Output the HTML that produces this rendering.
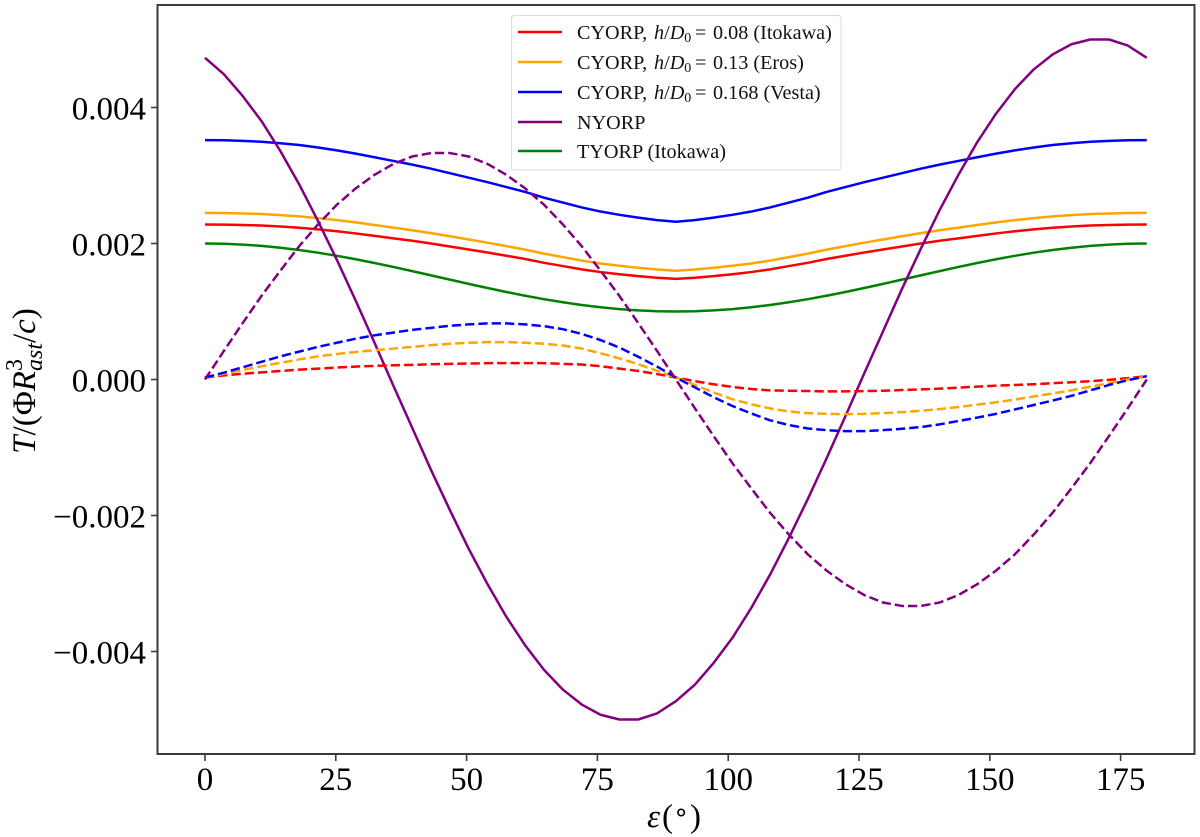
<!DOCTYPE html>
<html lang="en">
<head>
<meta charset="utf-8">
<title>YORP torque vs obliquity</title>
<style>
html,body{margin:0;padding:0;background:#fff;}
svg{display:block;font-family:"Liberation Serif",serif;filter:blur(0.35px);}
</style>
</head>
<body>
<svg id="chart" xmlns="http://www.w3.org/2000/svg" width="1200" height="837" viewBox="0 0 1200 837">
  <rect x="0" y="0" width="1200" height="837" fill="#ffffff"/>
  <g id="ticks"></g>
  <g id="series"></g>
  <rect x="157.5" y="5" width="1037" height="749" fill="none" stroke="#3a3a3a" stroke-width="2"/>
  <text x="647" y="827" font-size="33" fill="#000"><tspan font-style="italic">ε</tspan><tspan x="662">(</tspan><tspan x="673" font-size="26" dy="-6">∘</tspan><tspan x="690" dy="6">)</tspan></text>
  <text transform="translate(35,381) rotate(-90)" font-size="33" text-anchor="middle" fill="#000"><tspan font-style="italic">T</tspan>/(Φ<tspan font-style="italic">R</tspan><tspan font-size="24" dy="-13">3</tspan><tspan font-size="24" dy="20" dx="-12" font-style="italic">ast</tspan><tspan dy="-7">/</tspan><tspan font-style="italic">c</tspan>)</text>
  <g>
    <rect x="511.5" y="15.5" width="329.5" height="154.5" rx="3" fill="#ffffff" fill-opacity="0.9" stroke="#dcdcdc" stroke-width="1"/>
    <g font-size="20.2" fill="#111">
      <line x1="518" x2="562" y1="32" y2="32" stroke="#ff0000" stroke-width="2.4"/>
      <text x="577" y="39">CYORP, <tspan x="654" font-style="italic">h</tspan>/<tspan font-style="italic">D</tspan><tspan font-size="14" dy="3">0</tspan><tspan x="695" dy="-3">=</tspan><tspan x="713">0.08 (Itokawa)</tspan></text>
      <line x1="518" x2="562" y1="62" y2="62" stroke="#ffa500" stroke-width="2.4"/>
      <text x="577" y="69">CYORP, <tspan x="654" font-style="italic">h</tspan>/<tspan font-style="italic">D</tspan><tspan font-size="14" dy="3">0</tspan><tspan x="695" dy="-3">=</tspan><tspan x="713">0.13 (Eros)</tspan></text>
      <line x1="518" x2="562" y1="92" y2="92" stroke="#0000ff" stroke-width="2.4"/>
      <text x="577" y="99">CYORP, <tspan x="654" font-style="italic">h</tspan>/<tspan font-style="italic">D</tspan><tspan font-size="14" dy="3">0</tspan><tspan x="695" dy="-3">=</tspan><tspan x="713">0.168 (Vesta)</tspan></text>
      <line x1="518" x2="562" y1="122" y2="122" stroke="#800080" stroke-width="2.4"/>
      <text x="577" y="129">NYORP</text>
      <line x1="518" x2="562" y1="151" y2="151" stroke="#008000" stroke-width="2.4"/>
      <text x="577" y="158">TYORP (Itokawa)</text>
    </g>
  </g>
</svg>
<script>
// Obliquity samples in degrees
const epsilon = [0,3.6,7.2,10.8,14.4,18,21.6,25.2,28.8,32.4,36,39.6,43.2,46.8,50.4,54,57.6,61.2,64.8,68.4,72,75.6,79.2,82.8,86.4,90,93.6,97.2,100.8,104.4,108,111.6,115.2,118.8,122.4,126,129.6,133.2,136.8,140.4,144,147.6,151.2,154.8,158.4,162,165.6,169.2,172.8,176.4,180];
// Series values, in units of 0.001
const cyorpItokawaSolid = [2.28,2.278,2.273,2.264,2.25,2.232,2.208,2.18,2.148,2.112,2.076,2.04,2,1.956,1.912,1.868,1.82,1.772,1.716,1.668,1.62,1.58,1.548,1.52,1.496,1.48,1.496,1.52,1.548,1.58,1.62,1.668,1.716,1.772,1.82,1.868,1.912,1.956,2,2.04,2.076,2.112,2.148,2.18,2.208,2.232,2.25,2.264,2.273,2.278,2.28];
const cyorpErosSolid = [2.45,2.448,2.442,2.433,2.418,2.399,2.374,2.344,2.31,2.272,2.233,2.195,2.153,2.106,2.059,2.012,1.961,1.91,1.851,1.8,1.749,1.706,1.672,1.643,1.617,1.6,1.617,1.643,1.672,1.706,1.749,1.8,1.851,1.91,1.961,2.012,2.059,2.106,2.153,2.195,2.233,2.272,2.31,2.344,2.374,2.399,2.418,2.433,2.442,2.448,2.45];
const cyorpVestaSolid = [3.52,3.518,3.509,3.496,3.474,3.448,3.412,3.37,3.322,3.268,3.214,3.16,3.1,3.034,2.968,2.902,2.83,2.758,2.674,2.602,2.53,2.47,2.422,2.38,2.344,2.32,2.344,2.38,2.422,2.47,2.53,2.602,2.674,2.758,2.83,2.902,2.968,3.034,3.1,3.16,3.214,3.268,3.322,3.37,3.412,3.448,3.474,3.496,3.509,3.518,3.52];
const nyorpSolid = [4.73,4.49,4.17,3.8,3.36,2.87,2.33,1.76,1.16,0.54,-0.09,-0.71,-1.33,-1.92,-2.49,-3.01,-3.49,-3.91,-4.27,-4.56,-4.78,-4.93,-5,-5,-4.91,-4.73,-4.49,-4.17,-3.8,-3.36,-2.87,-2.33,-1.76,-1.16,-0.54,0.09,0.71,1.33,1.92,2.49,3.01,3.49,3.91,4.27,4.56,4.78,4.93,5,5,4.91,4.73];
const tyorpSolid = [2,1.996,1.984,1.965,1.938,1.905,1.865,1.819,1.768,1.713,1.655,1.594,1.531,1.469,1.406,1.346,1.287,1.232,1.181,1.136,1.096,1.062,1.035,1.016,1.004,1,1.004,1.016,1.035,1.062,1.096,1.136,1.181,1.232,1.287,1.346,1.406,1.469,1.531,1.594,1.655,1.713,1.768,1.819,1.865,1.905,1.938,1.965,1.984,1.996,2];
const cyorpItokawaDashed = [0.03,0.06,0.085,0.105,0.125,0.145,0.16,0.175,0.19,0.2,0.21,0.215,0.225,0.23,0.235,0.24,0.24,0.24,0.24,0.23,0.22,0.195,0.16,0.125,0.08,0.03,-0.025,-0.07,-0.11,-0.14,-0.16,-0.165,-0.17,-0.175,-0.175,-0.17,-0.165,-0.155,-0.145,-0.135,-0.12,-0.105,-0.09,-0.08,-0.07,-0.055,-0.04,-0.025,-0.005,0.02,0.05];
const cyorpErosDashed = [0.03,0.085,0.14,0.195,0.245,0.295,0.34,0.375,0.405,0.43,0.455,0.48,0.505,0.525,0.54,0.55,0.55,0.54,0.525,0.5,0.455,0.385,0.31,0.225,0.13,0.03,-0.08,-0.19,-0.29,-0.365,-0.425,-0.47,-0.495,-0.505,-0.51,-0.505,-0.495,-0.48,-0.46,-0.435,-0.405,-0.37,-0.335,-0.295,-0.25,-0.205,-0.16,-0.105,-0.055,0,0.04];
const cyorpVestaDashed = [0.03,0.1,0.18,0.26,0.34,0.41,0.48,0.54,0.6,0.65,0.69,0.73,0.76,0.79,0.81,0.825,0.825,0.81,0.785,0.74,0.67,0.58,0.47,0.335,0.19,0.03,-0.115,-0.26,-0.39,-0.5,-0.6,-0.67,-0.72,-0.745,-0.76,-0.76,-0.745,-0.725,-0.7,-0.66,-0.61,-0.56,-0.505,-0.44,-0.375,-0.31,-0.24,-0.16,-0.08,-0.01,0.05];
const nyorpDashed = [0,0.42,0.83,1.23,1.6,1.96,2.28,2.57,2.81,3.01,3.17,3.28,3.33,3.33,3.28,3.17,3.01,2.81,2.57,2.28,1.96,1.6,1.23,0.83,0.42,0,-0.42,-0.83,-1.23,-1.6,-1.96,-2.28,-2.57,-2.81,-3.01,-3.17,-3.28,-3.33,-3.33,-3.28,-3.17,-3.01,-2.81,-2.57,-2.28,-1.96,-1.6,-1.23,-0.83,-0.42,0];
// Tick values and labels
const xTicks = [0,25,50,75,100,125,150,175];
const yTicks = [-4,-2,0,2,4];
const yTickLabels = ["\u22120.004","\u22120.002","0.000","0.002","0.004"];

function xScale(v){ return 205 + v * 5.232; }
function yScale(v){ return 379.5 - v * 68; }

const NS = "http://www.w3.org/2000/svg";
const seriesGroup = document.getElementById("series");
const tickGroup = document.getElementById("ticks");

function drawSeries(values, color, dashed, name){
  const path = document.createElementNS(NS, "path");
  const d = values.map(function(v, i){
    return (i ? "L" : "M") + xScale(epsilon[i]).toFixed(2) + " " + yScale(v).toFixed(2);
  }).join("");
  path.setAttribute("d", d);
  path.setAttribute("fill", "none");
  path.setAttribute("stroke", color);
  path.setAttribute("stroke-width", "2.5");
  path.setAttribute("stroke-linejoin", "round");
  if (dashed) { path.setAttribute("stroke-dasharray", "9.3 4"); }
  
  
  seriesGroup.appendChild(path);
}

drawSeries(cyorpItokawaSolid, "#ff0000", false, "line-cyorp-itokawa-solid");
drawSeries(cyorpErosSolid, "#ffa500", false, "line-cyorp-eros-solid");
drawSeries(cyorpVestaSolid, "#0000ff", false, "line-cyorp-vesta-solid");
drawSeries(tyorpSolid, "#008000", false, "line-tyorp-solid");
drawSeries(nyorpSolid, "#800080", false, "line-nyorp-solid");
drawSeries(cyorpItokawaDashed, "#ff0000", true, "line-cyorp-itokawa-dashed");
drawSeries(cyorpErosDashed, "#ffa500", true, "line-cyorp-eros-dashed");
drawSeries(cyorpVestaDashed, "#0000ff", true, "line-cyorp-vesta-dashed");
drawSeries(nyorpDashed, "#800080", true, "line-nyorp-dashed");

xTicks.forEach(function(t){
  const x = xScale(t);
  const mark = document.createElementNS(NS, "line");
  mark.setAttribute("x1", x);
  mark.setAttribute("x2", x);
  mark.setAttribute("y1", 754);
  mark.setAttribute("y2", 761);
  mark.setAttribute("stroke", "#3a3a3a");
  mark.setAttribute("stroke-width", "1.6");
  
  
  tickGroup.appendChild(mark);
  const label = document.createElementNS(NS, "text");
  label.setAttribute("x", x);
  label.setAttribute("y", 790);
  label.setAttribute("font-size", "33");
  label.setAttribute("text-anchor", "middle");
  label.setAttribute("fill", "#000");
  label.textContent = String(t);
  
  
  tickGroup.appendChild(label);
});

yTicks.forEach(function(t, i){
  const y = yScale(t);
  const mark = document.createElementNS(NS, "line");
  mark.setAttribute("x1", 151);
  mark.setAttribute("x2", 157.5);
  mark.setAttribute("y1", y);
  mark.setAttribute("y2", y);
  mark.setAttribute("stroke", "#3a3a3a");
  mark.setAttribute("stroke-width", "1.6");
  
  
  tickGroup.appendChild(mark);
  const label = document.createElementNS(NS, "text");
  label.setAttribute("x", 146);
  label.setAttribute("y", y + 12);
  label.setAttribute("font-size", "33");
  label.setAttribute("text-anchor", "end");
  label.setAttribute("fill", "#000");
  label.textContent = yTickLabels[i];
  
  
  tickGroup.appendChild(label);
});
</script>
</body>
</html>
